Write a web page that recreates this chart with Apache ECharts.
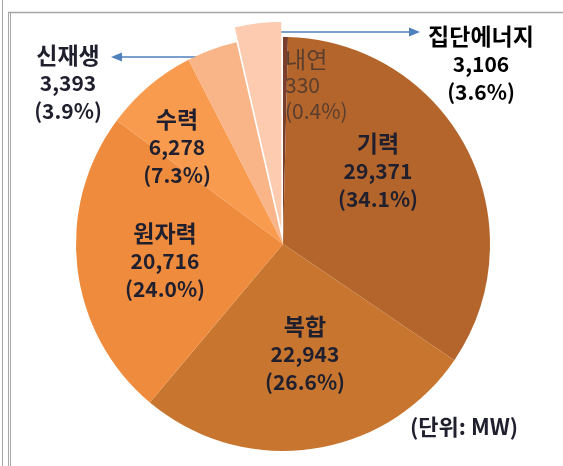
<!DOCTYPE html>
<html>
<head>
<meta charset="utf-8">
<script src="https://cdn.jsdelivr.net/npm/echarts@6/dist/echarts.min.js"></script>
<style>
  html, body { margin: 0; padding: 0; background: #fff; }
  #chart { width: 563px; height: 466px; }
</style>
</head>
<body>
<div id="chart"></div>
<script>
    // 발전원별 설비용량 (단위: MW)
    const names = ['내연', '기력', '복합', '원자력', '수력', '신재생', '집단에너지'];
    const values = [330, 29371, 22943, 20716, 6278, 3393, 3106];
    const shares = ['0.4', '34.1', '26.6', '24.0', '7.3', '3.9', '3.6'];

    const colors = ['#7a3f2c', '#b4652b', '#c8762f', '#ee8b3d', '#f99b4f', '#f9b487', '#fccbb0'];
    // label anchor per slice
    const labelPos = [
        [285, 46], [378, 171], [305, 354], [165, 261], [177, 147], [68, 83], [481, 64]
    ];

    const myChart = echarts.init(document.getElementById('chart'));

    const fmt = function (v) {
        return v.toLocaleString('en-US');
    };
    // rich-text label: name line a bit larger than the numbers
    const labelText = function (i, n, v) {
        return '{' + n + '|' + names[i] + '}\n{' + v + '|' + fmt(values[i]) + '}\n{' + v + '|(' + shares[i] + '%)}';
    };

    const arrowColor = '#4f81bd';
    const frameColor = '#a6a6a6';
    const textColor = '#1f1f2e';
    const fontFamily = '"Noto Sans CJK KR", "Noto Sans", sans-serif';
    const last = names.length - 1;

    const rich = {
        n: {fontSize: 23, fontWeight: 'bold', color: textColor, lineHeight: 28, align: 'center', fontFamily: fontFamily},
        v: {fontSize: 21, fontWeight: 'bold', color: textColor, lineHeight: 28, align: 'center', fontFamily: fontFamily},
        mn: {fontSize: 23, fontWeight: 'normal', color: '#5a3e2e', lineHeight: 26, align: 'left', fontFamily: fontFamily},
        mv: {fontSize: 21, fontWeight: 'normal', color: '#5a3e2e', lineHeight: 26, align: 'left', fontFamily: fontFamily}
    };

    const option = {
        animation: false,
        textStyle: {
            fontFamily: fontFamily
        },
        graphic: [
            // frame
            {type: 'line', shape: {x1: 2.5, y1: 0, x2: 2.5, y2: 466}, style: {stroke: frameColor, lineWidth: 1}},
            {type: 'line', shape: {x1: 8.5, y1: 12, x2: 8.5, y2: 466}, style: {stroke: frameColor, lineWidth: 1}},
            {type: 'line', shape: {x1: 10.5, y1: 12, x2: 10.5, y2: 466}, style: {stroke: frameColor, lineWidth: 1}},
            {type: 'line', shape: {x1: 8, y1: 12.5, x2: 563, y2: 12.5}, style: {stroke: frameColor, lineWidth: 1.5}},
            // arrows
            {type: 'line', shape: {x1: 276, y1: 32, x2: 412, y2: 32}, style: {stroke: arrowColor, lineWidth: 1.5}},
            {type: 'polygon', shape: {points: [[420, 32], [409, 27.5], [409, 36.5]]}, style: {fill: arrowColor}},
            {type: 'line', shape: {x1: 200, y1: 57, x2: 119, y2: 57}, style: {stroke: arrowColor, lineWidth: 1.5}},
            {type: 'polygon', shape: {points: [[111, 57], [122, 52.5], [122, 61.5]]}, style: {fill: arrowColor}},
            // label of the pulled-out slice
            {
                type: 'text',
                style: {
                    text: labelText(last, 'n', 'v'),
                    rich: rich,
                    x: labelPos[last][0], y: labelPos[last][1],
                    align: 'center', verticalAlign: 'middle'
                }
            },
            // unit
            {
                type: 'text', left: 410, top: 416,
                style: {
                    text: '(단위: MW)', fill: textColor, fontSize: 22, fontWeight: 'bold',
                    fontFamily: fontFamily
                }
            }
        ],
        series: [
            {
                type: 'pie',
                center: [283, 244],
                radius: 207,
                startAngle: 90,
                clockwise: true,
                selectedMode: 'single',
                selectedOffset: 15,
                emphasis: {disabled: true},
                itemStyle: {borderWidth: 0},
                label: {
                    show: true,
                    position: 'inside',
                    formatter: function (p) {
                        const i = p.dataIndex;
                        return i === 0 ? labelText(i, 'mn', 'mv') : labelText(i, 'n', 'v');
                    },
                    rich: rich
                },
                labelLine: {show: false},
                labelLayout: function (params) {
                    const i = params.dataIndex;
                    const p = labelPos[i];
                    if (i === 0) {
                        return {x: p[0], y: p[1], align: 'left', verticalAlign: 'top'};
                    }
                    return {x: p[0], y: p[1], align: 'center', verticalAlign: 'middle'};
                },
                data: names.map(function (n, i) {
                    return {
                        name: n,
                        value: values[i],
                        selected: i === last,
                        label: {show: i !== last},
                        itemStyle: {color: colors[i]}
                    };
                })
            }
        ]
    };
    myChart.setOption(option);
</script>
</body>
</html>
